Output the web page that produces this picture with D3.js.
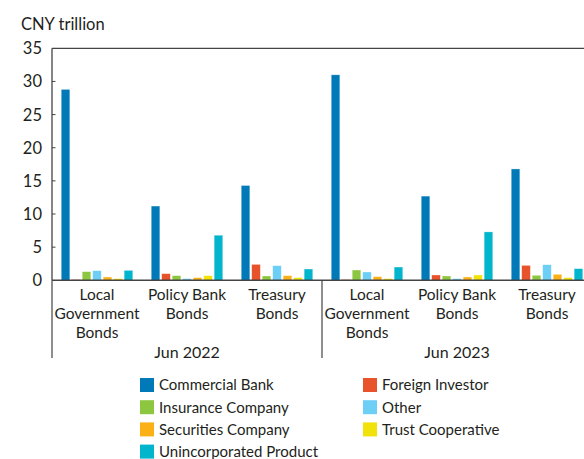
<!DOCTYPE html>
<html><head><meta charset="utf-8">
<script src="https://cdn.jsdelivr.net/npm/d3@7"></script>
<style>
html,body{margin:0;padding:0;background:#fff;}
svg text{font-family:Lato,"Open Sans",sans-serif;fill:#231f20;}
</style></head>
<body><svg id="c" width="584" height="459"></svg>
<script>
const periods = ["Jun 2022", "Jun 2023"];
const categories = ["Local Government Bonds", "Policy Bank Bonds", "Treasury Bonds"];
const categoryLines = [["Local", "Government", "Bonds"], ["Policy Bank", "Bonds"], ["Treasury", "Bonds"]];
const seriesNames = ["Commercial Bank", "Foreign Investor", "Insurance Company", "Other", "Securities Company", "Trust Cooperative", "Unincorporated Product"];
const seriesColors = ["#0079b8", "#e8532b", "#8dc63f", "#6dcff6", "#fbb116", "#f2e20c", "#00b5cc"];
// values[period][category][series]
const jun2022Local = [28.8, 0.1, 1.3, 1.45, 0.5, 0.25, 1.5];
const jun2022Policy = [11.2, 1.0, 0.7, 0.25, 0.4, 0.7, 6.8];
const jun2022Treasury = [14.3, 2.4, 0.65, 2.2, 0.7, 0.4, 1.7];
const jun2023Local = [31.0, 0.1, 1.55, 1.25, 0.55, 0.25, 2.0];
const jun2023Policy = [12.7, 0.8, 0.65, 0.25, 0.5, 0.8, 7.3];
const jun2023Treasury = [16.8, 2.25, 0.75, 2.35, 0.9, 0.4, 1.75];
const yTicks = [0, 5, 10, 15, 20, 25, 30, 35];
const unitLabel = "CNY trillion";

const values = [[jun2022Local, jun2022Policy, jun2022Treasury], [jun2023Local, jun2023Policy, jun2023Treasury]];

const svg = d3.select("#c");
const mLeft = 52, mRight = 592, mTop = 48.3, mBottom = 280.3;

const y = d3.scaleLinear().domain([0, 35]).range([mBottom, mTop]);
const xPeriod = d3.scaleBand().domain(periods).range([mLeft, mRight]);
const xCat = d3.scaleBand().domain(categories).range([0, xPeriod.bandwidth()]);
const xSer = d3.scaleBand().domain(seriesNames).range([0, xCat.bandwidth()]).paddingInner(0.18).paddingOuter(0.88);

// unit label
svg.append("text").attr("x", 21).attr("y", 30).attr("font-size", 16.5).text(unitLabel);

// y axis
const yAxis = svg.append("g");
yAxis.append("line").attr("x1", mLeft).attr("x2", mLeft).attr("y1", mTop).attr("y2", mBottom).attr("stroke", "#444").attr("stroke-width", 1.3);
yAxis.selectAll("line.tk").data(yTicks.filter(d => d > 0 && d < 35)).join("line").attr("class", "tk")
  .attr("x1", mLeft).attr("x2", mLeft + 3.5).attr("y1", d => y(d)).attr("y2", d => y(d)).attr("stroke", "#444").attr("stroke-width", 1);
yAxis.selectAll("text").data(yTicks).join("text")
  .attr("x", 42).attr("y", d => y(d)).attr("dy", "0.36em").attr("text-anchor", "end").attr("font-size", 16.5).text(d => d);

// top frame
svg.append("line").attr("x1", mLeft).attr("x2", mRight).attr("y1", mTop).attr("y2", mTop).attr("stroke", "#444").attr("stroke-width", 1.3);

// bars
periods.forEach((p, pi) => {
  categories.forEach((c, ci) => {
    const g = svg.append("g").attr("transform", `translate(${xPeriod(p) + xCat(c)},0)`);
    g.selectAll("rect").data(values[pi][ci].map((v, si) => ({v, s: seriesNames[si], col: seriesColors[si]}))).join("rect")
      .attr("x", d => xSer(d.s)).attr("width", xSer.bandwidth())
      .attr("y", d => y(d.v)).attr("height", d => y(0) - y(d.v))
      .attr("fill", d => d.col).attr("stroke", "#fff").attr("stroke-opacity", 0.5).attr("stroke-width", 0.6);
  });
});

// x axis
svg.append("line").attr("x1", mLeft).attr("x2", mRight).attr("y1", mBottom).attr("y2", mBottom).attr("stroke", "#444").attr("stroke-width", 1.5);
// separators
periods.forEach(p => {
  svg.append("line").attr("x1", xPeriod(p)).attr("x2", xPeriod(p)).attr("y1", mBottom).attr("y2", 358).attr("stroke", "#444").attr("stroke-width", 1.2);
});
// category labels
periods.forEach(p => {
  categories.forEach((c, ci) => {
    const t = svg.append("text").attr("text-anchor", "middle").attr("font-size", 15.5)
      .attr("transform", `translate(${xPeriod(p) + xCat(c) + xCat.bandwidth() / 2},300)`);
    categoryLines[ci].forEach((ln, li) => t.append("tspan").attr("x", 0).attr("y", li * 19).text(ln));
  });
  svg.append("text").attr("text-anchor", "middle").attr("font-size", 16)
    .attr("x", xPeriod(p) + xPeriod.bandwidth() / 2).attr("y", 358).text(p);
});

// legend
const lg = svg.append("g");
seriesNames.forEach((s, i) => {
  const col = i % 2, row = Math.floor(i / 2);
  const gx = col === 0 ? 140 : 363, gy = 385 + row * 22.2;
  lg.append("rect").attr("x", gx).attr("y", gy - 7).attr("width", 14).attr("height", 14).attr("fill", seriesColors[i]);
  lg.append("text").attr("x", gx + 19).attr("y", gy).attr("dy", "0.36em").attr("font-size", 15).text(s);
});
</script></body></html>
